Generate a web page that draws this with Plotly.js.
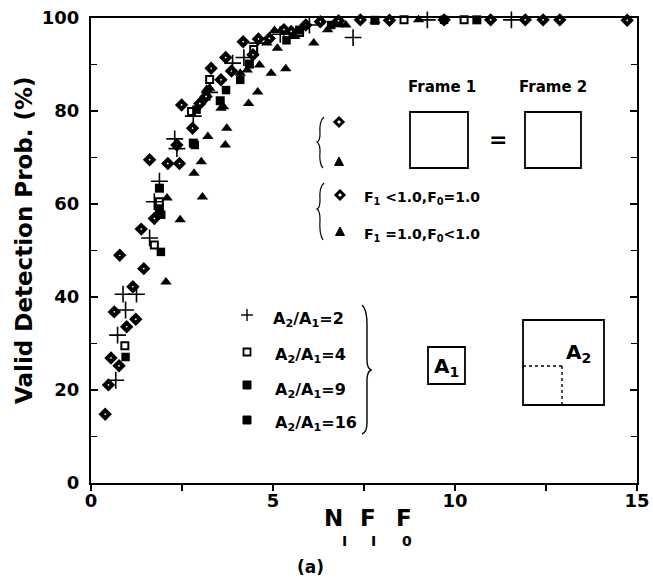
<!DOCTYPE html>
<html>
<head>
<meta charset="utf-8">
<script src="https://cdn.plot.ly/plotly-3.0.1.min.js"></script>
<style>html,body{margin:0;padding:0;background:#fff;}#chart{width:653px;height:579px;}</style>
</head>
<body>
<div id="chart"></div>
<script>
// ---- data ----
const diamondX = [0.39,0.48,0.55,0.77,0.64,0.98,1.23,1.15,0.79,1.45,1.38,1.74,1.61,2.11,2.43,2.36,2.49,2.79,2.99,3.16,3.30,3.57,3.86,4.18,4.45,4.90,5.5,5.9,6.3,6.8,7.4,8.2,9.7,10.98,11.93,12.42,12.88,14.73,3.7,4.6,5.3];
const diamondY = [14.8,21.1,26.9,25.2,36.8,33.6,35.2,42.2,49.0,46.1,54.6,56.9,69.5,68.7,68.7,72.7,81.3,76.3,81.6,83.1,89.2,86.7,88.6,94.9,92.1,95.6,97.1,98.5,99.2,99.4,99.6,99.5,99.6,99.6,99.6,99.6,99.6,99.5,91.5,95.5,97.5];

const triangleX = [2.06,2.45,2.09,3.06,2.83,3.03,3.21,3.69,3.73,3.18,3.57,3.64,4.33,4.58,4.95,5.35,4.63,4.29,4.10,3.26,5.04,4.83,5.12,6.12,5.6,6.5,7.0,7.8,9.0];
const triangleY = [43.2,56.6,61.3,61.5,66.6,69.1,74.5,72.7,76.3,84.7,80.6,80.9,81.6,84.1,88.1,89.1,89.9,88.8,88.1,84.9,97.3,94.6,93.5,94.6,96.0,97.5,98.5,99.4,99.6];

const plusX = [0.68,0.73,0.95,0.88,1.25,1.61,1.74,1.88,2.36,2.81,3.26,3.89,4.56,5.2,6.0,7.2,9.24,11.55,2.3,4.2];
const plusY = [22.1,31.8,37.2,40.6,40.6,52.7,60.5,64.9,71.9,78.9,84.0,90.3,94.6,96.5,98.5,95.8,99.6,99.6,74.0,91.5];

const sq4X = [0.93,1.74,1.88,2.76,3.26,4.47,5.73,6.8,8.6,10.25];
const sq4Y = [29.5,51.2,60.5,79.9,86.8,93.2,96.9,99.0,99.6,99.6];

const sq9X = [0.95,1.92,1.93,2.85,2.90,3.71,4.1,5.37,6.6,9.7];
const sq9Y = [27.1,49.7,57.7,72.7,80.3,84.5,86.7,95.2,98.5,99.6];

const sq16X = [1.88,1.88,2.81,3.55,4.35,5.73,7.8,10.6];
const sq16Y = [63.4,58.7,73.1,82.2,90.1,97.4,99.5,99.6];

const xTickVals = [0,5,10,15];
const xTickText = ['0','5','10','15'];
const xMinorVals = [2.5,7.5,12.5];
const yTickVals = [0,20,40,60,80,100];
const yTickText = ['0','20','40','60','80','100'];
const yMinorVals = [10,30,50,70,90];

// ---- geometry helpers (pixel -> paper) for decorations ----
const L = 91, R = 637, T = 18, B = 483;
const PX = p => (p - L) / (R - L);
const PY = p => (B - p) / (B - T);
function pp(str) {
  const tok = str.trim().split(/\s+/);
  let out = [], isX = true;
  for (const t of tok) {
    if (/^[A-Za-z]$/.test(t)) { out.push(t); isX = true; }
    else { const v = parseFloat(t); out.push((isX ? PX(v) : PY(v)).toFixed(5)); isX = !isX; }
  }
  return out.join(' ');
}
const FB = 'DejaVu Sans';
const shapes = [];
const annotations = [];
function rect(x0,y0,x1,y1,opt) {
  shapes.push(Object.assign({type:'rect', xref:'paper', yref:'paper', x0:PX(x0), x1:PX(x1), y0:PY(y1), y1:PY(y0),
    line:{color:'#000', width:1.8}, fillcolor:'rgba(0,0,0,0)'}, opt||{}));
}
function line(x0,y0,x1,y1,opt) {
  shapes.push(Object.assign({type:'line', xref:'paper', yref:'paper', x0:PX(x0), x1:PX(x1), y0:PY(y0), y1:PY(y1),
    line:{color:'#000', width:1.6}}, opt||{}));
}
function path(s, opt) {
  shapes.push(Object.assign({type:'path', xref:'paper', yref:'paper', path:pp(s), line:{color:'#000', width:1.4}}, opt||{}));
}
function text(t, x, y, size, opt) {
  annotations.push(Object.assign({text:t, xref:'paper', yref:'paper', x:PX(x), y:PY(y), showarrow:false,
    xanchor:'center', yanchor:'middle', font:{family:FB, size:size, color:'#000', weight:'bold'}}, opt||{}));
}
function keyDiamond(cx, cy) { path(`M ${cx} ${cy-4} L ${cx+4} ${cy} L ${cx} ${cy+4} L ${cx-4} ${cy} Z`, {line:{color:'#000',width:3}, fillcolor:'#fff'}); }
function keyTriangle(cx, cy) { path(`M ${cx} ${cy-5} L ${cx+4.5} ${cy+3.5} L ${cx-4.5} ${cy+3.5} Z`, {line:{color:'#000',width:1}, fillcolor:'#000'}); }

// Frame 1 = Frame 2 diagram
text('Frame 1', 442, 87, 15);
text('Frame 2', 553, 87, 15);
rect(410,112,468,168);
rect(525,112,581,168);
text('=', 498, 139, 22);
// first small key group
path('M 324 117 Q 319 121 320 134 Q 320 141 317 142 Q 320 144 320 151 Q 319 164 323 168', {line:{color:'#000',width:1.2}});
keyDiamond(339,122);
keyTriangle(339,162);
// second key group
path('M 324 183 Q 319 187 320 200 Q 320 208 317 209 Q 320 211 320 219 Q 319 234 323 240', {line:{color:'#000',width:1.2}});
keyDiamond(340,195);
keyTriangle(340,232);
text('F<sub>1</sub> &lt;1.0,F<sub>0</sub>=1.0', 362, 198, 14, {xanchor:'left'});
text('F<sub>1</sub> =1.0,F<sub>0</sub>&lt;1.0', 362, 235, 14, {xanchor:'left'});

// A2/A1 keys
line(241,315,253,315,{line:{color:'#000',width:1.4}});
line(247,309,247,321,{line:{color:'#000',width:1.4}});
rect(243.5,348.5,250.5,355.5,{line:{color:'#000',width:1.8}, fillcolor:'#fff'});
rect(243,381,251,389,{line:{color:'#000',width:1}, fillcolor:'#000'});
rect(243,416,251,424,{line:{color:'#000',width:1}, fillcolor:'#000'});
text('A<sub>2</sub>/A<sub>1</sub>=2', 271, 319, 16, {xanchor:'left'});
text('A<sub>2</sub>/A<sub>1</sub>=4', 273, 356, 16, {xanchor:'left'});
text('A<sub>2</sub>/A<sub>1</sub>=9', 273, 390, 16, {xanchor:'left'});
text('A<sub>2</sub>/A<sub>1</sub>=16', 273, 424, 16, {xanchor:'left'});
path('M 362 305 Q 367 309 367 325 L 367 360 Q 367 368 371 370 Q 367 372 367 380 L 367 423 Q 367 432 362 434', {line:{color:'#000',width:1.4}});

// A1 / A2 boxes
rect(428,347,465,384);
text('A<sub>1</sub>', 446, 367, 20);
rect(523,320,604,405);
line(523,366,562,366,{line:{color:'#000',width:1.4,dash:'dot'}});
line(562,366,562,405,{line:{color:'#000',width:1.4,dash:'dot'}});
text('A<sub>2</sub>', 578, 353, 20);

// axis titles
text('Valid Detection Prob. (%)', 24, 240, 23, {textangle:-90});
text('N', 333, 518, 23);
text('F', 368, 518, 23);
text('F', 404, 518, 23);
text('I', 344, 541, 14);
text('I', 373, 541, 14);
text('0', 407, 541, 14);
text('(a)', 310, 567, 17);

const mk = (x, y, marker) => ({x, y, type:'scatter', mode:'markers', cliponaxis:false, marker, showlegend:false, hoverinfo:'skip'});
const data = [
  mk(diamondX, diamondY, {symbol:'diamond-open', size:6, color:'#000', line:{width:4, color:'#000'}}),
  mk(triangleX, triangleY, {symbol:'triangle-up', size:10, color:'#000'}),
  mk(plusX, plusY, {symbol:'cross-thin-open', size:12, color:'#000', line:{width:1.6, color:'#000'}}),
  mk(sq4X, sq4Y, {symbol:'square-open', size:7, color:'#000', line:{width:2, color:'#000'}}),
  mk(sq9X, sq9Y, {symbol:'square', size:8.5, color:'#000'}),
  mk(sq16X, sq16Y, {symbol:'square', size:9, color:'#000'})
];

const axisFont = {family:FB, size:18, color:'#000', weight:'bold'};
const layout = {
  width:653, height:579,
  margin:{l:L, r:653-R, t:T, b:579-B, pad:0},
  paper_bgcolor:'#fff', plot_bgcolor:'#fff',
  showlegend:false,
  xaxis:{range:[0,15], tickmode:'array', tickvals:xTickVals, ticktext:xTickText,
    showgrid:false, zeroline:false, showline:true, linecolor:'#000', linewidth:2, mirror:true,
    ticks:'outside', ticklen:6, tickwidth:1.5, tickcolor:'#000', tickfont:axisFont, ticklabelstandoff:-6,
    minor:{tickmode:'array', tickvals:xMinorVals, ticks:'outside', ticklen:6, tickwidth:1.5, tickcolor:'#000', showgrid:false}},
  yaxis:{range:[0,100], tickmode:'array', tickvals:yTickVals, ticktext:yTickText,
    showgrid:false, zeroline:false, showline:true, linecolor:'#000', linewidth:2, mirror:'ticks',
    ticks:'inside', ticklen:7, tickwidth:1.5, tickcolor:'#000', tickfont:axisFont, ticklabelstandoff:6,
    minor:{tickmode:'array', tickvals:yMinorVals, ticks:'inside', ticklen:6, tickwidth:1.5, tickcolor:'#000', showgrid:false}},
  shapes, annotations
};
Plotly.newPlot('chart', data, layout, {staticPlot:true, displayModeBar:false});
</script>
</body>
</html>
